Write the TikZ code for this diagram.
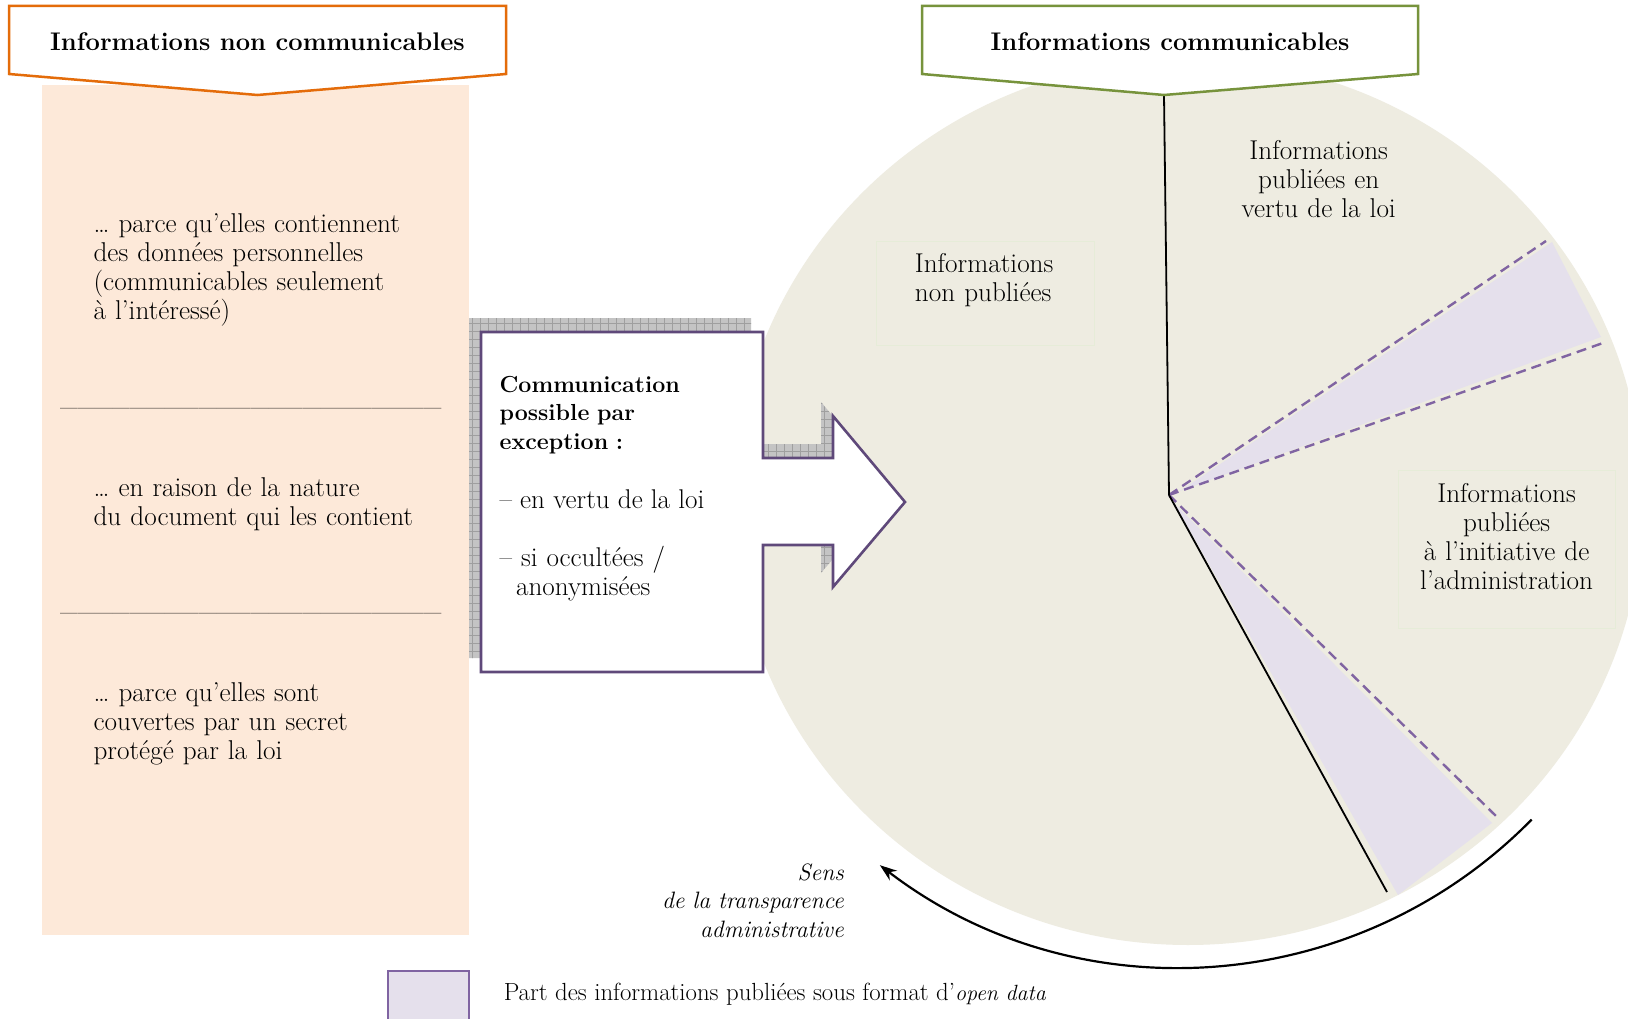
\documentclass[tikz,border=0pt]{standalone}
\usepackage{fontspec}
\usetikzlibrary{arrows.meta,patterns.meta}
\definecolor{peach}{HTML}{FDE9D9}
\definecolor{tan}{HTML}{EEECE1}
\definecolor{lav}{HTML}{E5E0EC}
\definecolor{dashpurple}{HTML}{8064A2}
\definecolor{boxpurple}{HTML}{5F497A}
\definecolor{hdorange}{HTML}{E46C0A}
\definecolor{hdgreen}{HTML}{77933C}
\definecolor{faintbox}{HTML}{E6ECD8}
\definecolor{shadowgray}{HTML}{C4C4C4}
\tikzset{
  bodyL/.style={font=\fontsize{27.2}{29.07}\selectfont, inner sep=0pt, align=left, anchor=base west},
  bodyC/.style={font=\fontsize{27.2}{28.8}\selectfont, inner sep=0pt, align=center, anchor=base},
  rulerow/.style={font=\fontsize{25}{29}\selectfont\addfontfeature{FakeBold=1.5}, inner sep=0pt, anchor=base west},
  boxbold/.style={font=\bfseries\fontsize{23.2}{28.6}\selectfont, inner sep=0pt, align=left, anchor=base west},
  boxtxt/.style={font=\fontsize{27.1}{29.1}\selectfont, inner sep=0pt, align=left, anchor=base west},
  hdtxt/.style={font=\bfseries\fontsize{25.5}{30}\selectfont, inner sep=0pt, anchor=base},
  itxt/.style={font=\itshape\fontsize{23.7}{28.5}\selectfont, inner sep=0pt, align=right, anchor=base east},
  dashline/.style={draw=dashpurple, line width=2.4pt, dash pattern=on 10pt off 6pt},
  blackline/.style={draw=black, line width=1.8pt},
  faint/.style={draw=faintbox, line width=1pt}
}
\begin{document}
\begin{tikzpicture}[x=1pt,y=-1pt]
\useasboundingbox (0,0) rectangle (1628,1019);
\clip (0,0) rectangle (1628,1019);
\fill[white] (0,0) rectangle (1628,1019);

% left peach panel
\fill[peach] (41.5,85) rectangle (469,934.5);

% pie background
\fill[tan] (1188,502) ellipse [x radius=455, y radius=443];

% open data wedges
\fill[lav] (1180,491) -- (1552,242) -- (1601,337) -- cycle;
\fill[lav] (1174,503) -- (1398,895) -- (1492,823) -- cycle;

% pie divisions
\coordinate (apex) at (1169,495);
\coordinate (hdpt) at (1164,95);
\coordinate (d1) at (1546,241);
\coordinate (d2) at (1603,343);
\coordinate (d3) at (1497,817);
\coordinate (b2) at (1387,892);
\draw[dashline] (apex) -- (d1);
\draw[dashline] (apex) -- (d2);
\draw[dashline] (apex) -- (d3);
\draw[blackline] (hdpt) -- (apex);
\draw[blackline] (apex) -- (b2);

% faint label boxes
\draw[faint] (876,242) rectangle (1094,345);
\draw[faint] (1398,470) rectangle (1615,628);

% pie labels
\node[bodyL, text width=200pt] (lnp) at (914.7,272.8) {Informations\\non publiées};
\node[bodyC, text width=240pt] (lvl) at (1318.7,159.6) {Informations\\publiées en\\vertu de la loi};
\node[bodyC, text width=260pt, font=\fontsize{27.2}{29.2}\selectfont] (lia) at (1506.6,502) {Informations\\publiées\\à l'initiative de\\l'administration};

% arrow box shadow
\begin{scope}[shift={(-12,-14)}]
\fill[shadowgray] (481,332) -- (763,332) -- (763,458) -- (833,458) -- (833,416) -- (905,502) -- (833,587) -- (833,545) -- (763,545) -- (763,672) -- (481,672) -- cycle;
\fill[pattern={Hatch[distance=8pt,angle=0,line width=0.9pt]}, pattern color=gray!75] (481,332) -- (763,332) -- (763,458) -- (833,458) -- (833,416) -- (905,502) -- (833,587) -- (833,545) -- (763,545) -- (763,672) -- (481,672) -- cycle;
\end{scope}
% arrow box
\draw[fill=white, draw=boxpurple, line width=2.6pt, line join=miter] (481,332) -- (763,332) -- (763,458) -- (833,458) -- (833,416) -- (905,502) -- (833,587) -- (833,545) -- (763,545) -- (763,672) -- (481,672) -- cycle;
\node[boxbold, text width=260pt] (exc) at (499.4,392) {Communication\\possible par\\exception :};
\node[boxtxt] (ex1) at (499.4,508.5) {– en vertu de la loi};
\node[boxtxt, text width=260pt] (ex2) at (499.4,566.6) {– si occultées /\\\hspace*{16.6pt}anonymisées};

% headers
\draw[fill=white, draw=hdorange, line width=2.5pt, line join=miter] (9,6) -- (506,6) -- (506,74) -- (257.5,95) -- (9,74) -- cycle;
\node[hdtxt] (hnc) at (257.5,51) {Informations non communicables};
\draw[fill=white, draw=hdgreen, line width=2.5pt, line join=miter] (922,6) -- (1418,6) -- (1418,74) -- (1164,95) -- (922,74) -- cycle;
\node[hdtxt] (hc) at (1170,51) {Informations communicables};

% left texts
\node[bodyL, text width=370pt] (p1) at (93.4,232.3) {\ldots{} parce qu'elles contiennent\\des données personnelles\\(communicables seulement\\à l'intéressé)};
\node[rulerow] (u1) at (60,405) {\_\_\_\_\_\_\_\_\_\_\_\_\_\_\_\_\_\_\_\_\_\_};
\node[bodyL, text width=370pt] (p2) at (93.4,496) {\ldots{} en raison de la nature\\du document qui les contient};
\node[rulerow] (u2) at (60,610) {\_\_\_\_\_\_\_\_\_\_\_\_\_\_\_\_\_\_\_\_\_\_};
\node[bodyL, text width=370pt] (p3) at (93.4,701.6) {\ldots{} parce qu'elles sont\\couvertes par un secret\\protégé par la loi};

% direction arrow
\coordinate (arcS) at (1531.6,819.6);
\draw[line width=2.2pt, -{Stealth[length=17pt,width=12pt]}] (arcS) arc[start angle=44.5, end angle=127.5, radius=493];
\node[itxt, text width=260pt] (sens) at (844,880) {Sens\\de la transparence\\administrative};

% legend
\draw[fill=lav, draw=dashpurple, line width=1.6pt] (388,971) rectangle (469,1030);
\node[bodyL, font=\fontsize{24.8}{28}\selectfont] (leg) at (503.6,1000) {Part des informations publiées sous format d'{\fontsize{22}{25}\selectfont\itshape open data}};
\end{tikzpicture}
\end{document}
